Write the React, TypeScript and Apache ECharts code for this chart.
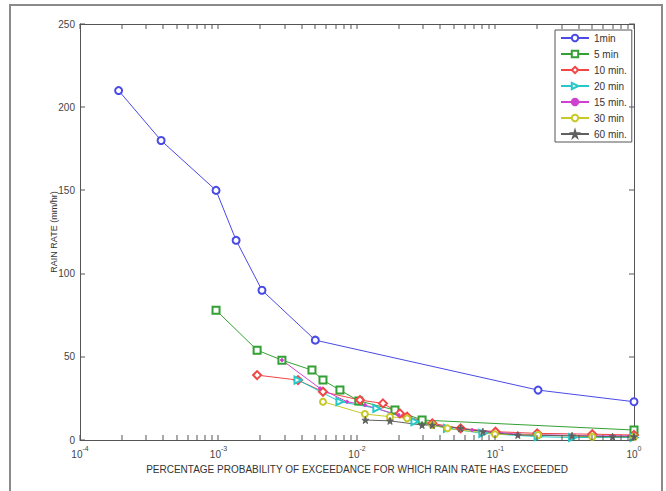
import React, { useEffect, useRef } from "react";
import * as echarts from "echarts";

// Percentage probability of exceedance (x) and rain rate in mm/hr (y)
const s1min: [number, number][] = [
  [0.00019, 210], [0.000385, 180], [0.00096, 150], [0.00134, 120],
  [0.00206, 90], [0.005, 60], [0.203, 30], [1, 23],
];
const s5min: [number, number][] = [
  [0.00096, 78], [0.0019, 54], [0.00287, 48], [0.00473, 42], [0.00568, 36],
  [0.00753, 30], [0.0103, 23.5], [0.0188, 18], [0.0295, 12], [1, 6],
];
const s10min: [number, number][] = [
  [0.0019, 39], [0.00375, 36], [0.00568, 29], [0.0105, 24], [0.0154, 22],
  [0.0204, 16], [0.023, 14], [0.035, 10], [0.056, 7], [0.1, 5], [0.2, 4],
  [0.5, 3.5], [1, 3],
];
const s20min: [number, number][] = [
  [0.00375, 36], [0.00753, 23], [0.0139, 19], [0.0262, 11], [0.045, 7],
  [0.081, 4], [0.203, 2], [0.36, 1.5], [1, 1.5],
];
const s15min: [number, number][] = [
  [0.00287, 48], [0.00541, 31], [0.00847, 23], [0.0114, 21], [0.02, 15],
  [0.035, 9], [0.068, 6], [0.145, 3.5], [0.5, 2.5], [1, 2.5],
];
const s30min: [number, number][] = [
  [0.00568, 23], [0.0114, 15.6], [0.0173, 14], [0.023, 13], [0.035, 9],
  [0.045, 7], [0.099, 3.5], [0.203, 3], [0.5, 2], [1, 2],
];
const s60min: [number, number][] = [
  [0.0115, 12], [0.0173, 11.5], [0.0295, 9], [0.035, 9], [0.056, 7],
  [0.081, 5], [0.145, 3], [0.357, 2.5], [0.7, 2], [1, 2],
];

const seriesNames = ["1min", "5 min", "10 min.", "20 min", "15 min.", "30 min", "60 min."];
const yMin = 0;
const yMax = 250;
const yStep = 50;
const xMin = 0.0001;
const xMax = 1;

// tick positions of the log axis (1..9 x each decade, plus the last decade)
const xTickValues: number[] = [];
for (let e = -4; e < 0; e++) {
  for (let k = 1; k <= 9; k++) xTickValues.push(k * Math.pow(10, e));
}
xTickValues.push(xMax);
const yTickValues: number[] = [];
for (let v = yMin; v <= yMax; v += yStep) yTickValues.push(v);

const STAR =
  "path://M50,0 L61,35 L98,35 L68,57 L79,91 L50,70 L21,91 L32,57 L2,35 L39,35 Z";

const FONT = "Liberation Sans, Arial, sans-serif";
const AXIS_COLOR = "#555";
const TICK_COLOR = "#555";

export default function App() {
  const ref = useRef<HTMLDivElement>(null);
  useEffect(() => {
    if (!ref.current) return;
    const chart = echarts.init(ref.current, undefined, { renderer: "svg" });

    const mk = (
      name: string,
      data: [number, number][],
      color: string,
      symbol: string,
      symbolSize: number,
      extra: any = {}
    ) => ({
      name,
      type: "line",
      data,
      symbol,
      symbolSize,
      showAllSymbol: true,
      lineStyle: { color, width: 1 },
      itemStyle: { color, borderColor: color, borderWidth: 1 },
      emphasis: { disabled: true },
      ...extra,
    });

    const xAxisFor = (position: "bottom" | "top", extra: any) => ({
      type: "log",
      logBase: 10,
      min: xMin,
      max: xMax,
      position,
      axisLine: { show: true, onZero: false, lineStyle: { color: AXIS_COLOR, width: 1 } },
      axisTick: { show: false },
      splitLine: { show: false },
      ...extra,
    });
    const yAxisFor = (position: "left" | "right", extra: any) => ({
      type: "value",
      min: yMin,
      max: yMax,
      interval: yStep,
      position,
      axisLine: { show: true, onZero: false, lineStyle: { color: AXIS_COLOR, width: 1 } },
      axisTick: { show: false },
      splitLine: { show: false },
      ...extra,
    });

    chart.setOption({
      animation: false,
      grid: { left: 80, top: 24, right: 32, bottom: 51 },
      graphic: [
        {
          type: "rect",
          shape: { x: 10, y: 5, width: 652, height: 520 },
          style: { fill: "transparent", stroke: "#8a8a8a", lineWidth: 2 },
          silent: true,
        },
      ],
      legend: {
        data: seriesNames,
        orient: "vertical",
        left: 555,
        top: 30,
        itemWidth: 28,
        itemHeight: 8,
        itemGap: 6,
        padding: [3, 5, 3, 5],
        borderColor: "#555",
        borderWidth: 1,
        backgroundColor: "#fff",
        textStyle: { fontSize: 10, color: "#333", fontFamily: FONT },
        selectedMode: false,
      },
      xAxis: [
        xAxisFor("bottom", {
          name: "PERCENTAGE PROBABILITY OF EXCEEDANCE FOR WHICH RAIN RATE HAS EXCEEDED",
          nameLocation: "middle",
          nameGap: 24,
          nameTextStyle: { fontSize: 10, color: "#333", fontFamily: FONT },
          axisLabel: {
            margin: 5,
            color: "#444",
            formatter: (v: number) => `{b|10}{s|${Math.round(Math.log10(v))}}`,
            rich: {
              b: { fontSize: 10, color: "#444", fontFamily: FONT, lineHeight: 14, verticalAlign: "bottom" },
              s: { fontSize: 7, color: "#444", fontFamily: FONT, lineHeight: 14, verticalAlign: "top", padding: [0, 0, 6, 0] },
            },
          },
        }),
        xAxisFor("top", { axisLabel: { show: false } }),
      ],
      yAxis: [
        yAxisFor("left", {
          name: "RAIN RATE (mm/hr)",
          nameLocation: "middle",
          nameGap: 22,
          nameMoveOverlap: false,
          nameTextStyle: { fontSize: 9, color: "#333", fontFamily: FONT },
          axisLabel: { fontSize: 10, color: "#444", margin: 5, fontFamily: FONT },
        }),
        yAxisFor("right", { axisLabel: { show: false } }),
      ],
      series: [
        {
          type: "custom",
          clip: false,
          silent: true,
          z: 50,
          data: xTickValues.map((v) => [v, yMin]),
          renderItem: (_p: any, api: any) => {
            const x = api.value(0);
            const pb = api.coord([x, yMin]);
            const pt = api.coord([x, yMax]);
            const len = 5;
            const st = { fill: TICK_COLOR };
            return {
              type: "group",
              children: [
                { type: "rect", shape: { x: Math.round(pb[0]) - 0.5, y: pb[1] - len, width: 1, height: len }, style: st },
                { type: "rect", shape: { x: Math.round(pt[0]) - 0.5, y: pt[1], width: 1, height: len }, style: st },
              ],
            };
          },
        },
        {
          type: "custom",
          clip: false,
          silent: true,
          z: 50,
          data: yTickValues.map((v) => [xMin, v]),
          renderItem: (_p: any, api: any) => {
            const y = api.value(1);
            const pl = api.coord([xMin, y]);
            const pr = api.coord([xMax, y]);
            const len = 5;
            const st = { fill: TICK_COLOR };
            return {
              type: "group",
              children: [
                { type: "rect", shape: { x: pl[0], y: Math.round(pl[1]) - 0.5, width: len, height: 1 }, style: st },
                { type: "rect", shape: { x: pr[0] - len, y: Math.round(pr[1]) - 0.5, width: len, height: 1 }, style: st },
              ],
            };
          },
        },
        mk(seriesNames[0], s1min, "#4a4ae6", "emptyCircle", 7),
        mk(seriesNames[1], s5min, "#32a032", "emptyRect", 7),
        mk(seriesNames[2], s10min, "#f04646", "emptyDiamond", 8),
        mk(seriesNames[3], s20min, "#28c8c8", "emptyTriangle", 7, { symbolRotate: -90 }),
        mk(seriesNames[4], s15min, "#d040d0", "circle", 3),
        mk(seriesNames[5], s30min, "#c8c828", "emptyCircle", 6),
        mk(seriesNames[6], s60min, "#606060", STAR, 7),
      ],
    });

    return () => chart.dispose();
  }, []);

  return (
    <div
      ref={ref}
      style={{ position: "absolute", left: 0, top: 0, width: 666, height: 491 }}
    />
  );
}
